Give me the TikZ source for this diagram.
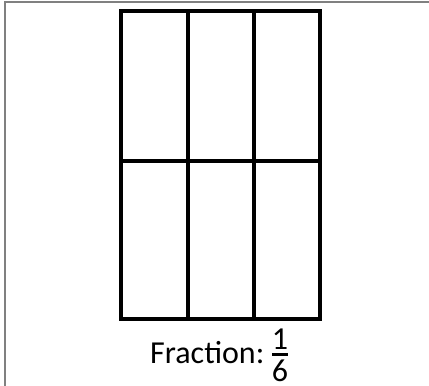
\documentclass[tikz,border=0pt]{standalone}
\usepackage{fontspec}
\setmainfont{Carlito}
\usepackage{tikz}
\usetikzlibrary{positioning}
\definecolor{frameGray}{RGB}{128,128,128}

\tikzset{
  gridline/.style={draw=black, line width=3.8pt},
  captiontext/.style={inner sep=0pt, font=\fontsize{32}{38}\selectfont}
}

\begin{document}
\begin{tikzpicture}[x=1pt, y=-1pt]
        \useasboundingbox (0,0) rectangle (429,386);
        % frame
        \draw[frameGray, line width=2pt] (5,386) -- (5,2) -- (429,2);
        % the whole, cut into six parts
        \draw[gridline] (121,11) rectangle (320,319);
        \draw[gridline] (121,161) -- (320,161);
        \foreach \x in {188,254}
            \draw[gridline] (\x,11) -- (\x,319);

        \node[captiontext, anchor=base west] (label) at (150,363) {Fraction:};
        \node[captiontext, anchor=base] (num) at (280,349) {1};
        \node[captiontext, anchor=base] (den) at (280,381) {6};
        \draw[line width=3pt] (272,354) -- (288,354);
    \end{tikzpicture}
\end{document}
